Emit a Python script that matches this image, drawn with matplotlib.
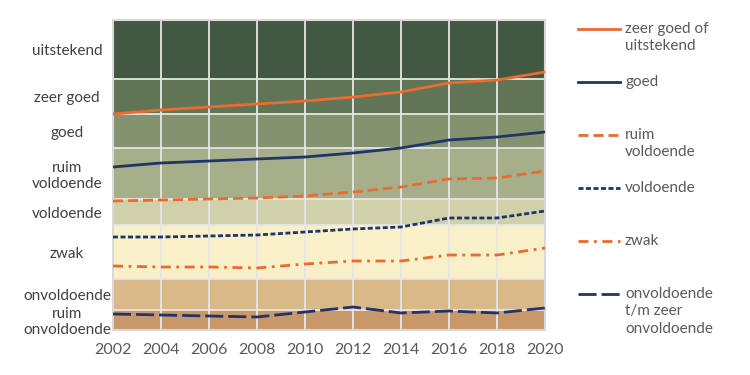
import matplotlib.pyplot as plt
from matplotlib.lines import Line2D

plt.rcParams["font.family"] = ["Lato", "DejaVu Sans"]

# band edges (arbitrary score scale, bottom -> top) and labels
BAND_EDGES = [0, 20, 51, 105, 131, 182, 216, 251, 310]
BAND_LABELS = ["ruim\nonvoldoende", "onvoldoende", "zwak", "voldoende",
               "ruim\nvoldoende", "goed", "zeer goed", "uitstekend"]
BAND_COLORS = ["#c8986a", "#d9b88a", "#f8f0c8", "#d0d1ab",
               "#a7af8a", "#84926f", "#5f7556", "#435840"]

years = [2002, 2004, 2006, 2008, 2010, 2012, 2014, 2016, 2018, 2020]
zeer_goed_uitstekend = [216, 220, 223, 226, 229, 233, 238, 247, 250, 258]
goed = [163, 167, 169, 171, 173, 177, 182, 190, 193, 198]
ruim_voldoende = [129, 130, 131, 132, 134, 138, 143, 151, 152, 159]
voldoende = [93, 93, 94, 95, 98, 101, 103, 112, 112, 119]
zwak = [64, 63, 63, 62, 66, 69, 69, 75, 75, 82]
onvoldoende = [16, 15, 14, 13, 18, 23, 17, 19, 17, 22]

ORANGE = "#ec6a2e"
NAVY = "#1f3468"

series = [
    ("zeer goed of\nuitstekend", zeer_goed_uitstekend, ORANGE, "-"),
    ("goed", goed, NAVY, "-"),
    ("ruim\nvoldoende", ruim_voldoende, ORANGE, (0, (3.6, 1.8))),
    ("voldoende", voldoende, NAVY, (0, (1.8, 0.9))),
    ("zwak", zwak, ORANGE, (0, (3.6, 2.0, 1.0, 2.0))),
    ("onvoldoende\nt/m zeer\nonvoldoende", onvoldoende, NAVY, (0, (6.5, 1.8))),
]

fig = plt.figure(figsize=(7.5, 3.75), dpi=100)
ax = fig.add_axes([113 / 750, 45 / 375, 432 / 750, 310 / 375])

for lo, hi, c in zip(BAND_EDGES[:-1], BAND_EDGES[1:], BAND_COLORS):
    ax.axhspan(lo, hi, color=c, lw=0, zorder=0)
for e in BAND_EDGES[1:-1]:
    ax.axhline(e, color="#e6e6e6", lw=1.3, zorder=1)
for yr in years[1:-1]:
    ax.axvline(yr, color="#e6e6e6", lw=1.3, zorder=1)

for label, vals, color, ls in series:
    ax.plot(years, vals, color=color, linestyle=ls, lw=2, zorder=3)

ax.set_xlim(2002, 2020)
ax.set_ylim(BAND_EDGES[0], BAND_EDGES[-1])
ax.set_xticks(years)
ax.set_xticklabels([str(y) for y in years], fontsize=11.5, color="#595959")
centers = [(lo + hi) / 2 for lo, hi in zip(BAND_EDGES[:-1], BAND_EDGES[1:])]
ax.set_yticks(centers)
ax.set_yticklabels(BAND_LABELS, fontsize=11, color="#404040",
                   ha="center", multialignment="center", linespacing=1.15)
ax.tick_params(axis="y", length=0, pad=33)
ax.tick_params(axis="x", length=0, pad=9)
for sp in ax.spines.values():
    sp.set_color("#d9d9d9")
    sp.set_linewidth(1.5)

# legend drawn by hand: handle aligned with the first text line
for i, (label, vals, color, ls) in enumerate(series):
    y = 1 - (29 + 53 * i) / 375
    fig.add_artist(Line2D([578 / 750, 620 / 750], [y, y], color=color,
                          linestyle=ls, lw=2, transform=fig.transFigure))
    fig.text(625 / 750, y + 7 / 375, label, fontsize=11, color="#595959",
             va="top", ha="left", linespacing=1.3,
             transform=fig.transFigure)

fig.savefig("out.png", dpi=100)
